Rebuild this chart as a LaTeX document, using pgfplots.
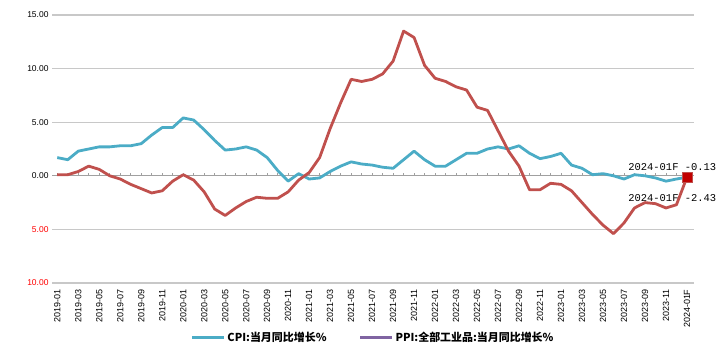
\documentclass[border=0pt]{standalone}
\usepackage{pgfplots}
\pgfplotsset{compat=1.18}
\usepackage{pgfplotstable}
\usepackage{fontspec}
\setmainfont{Liberation Sans}
\newfontfamily\cjk{Noto Sans CJK SC}
\newfontfamily\monof{Liberation Mono}
\definecolor{cpic}{HTML}{4BACC6}
\definecolor{ppic}{HTML}{C0504D}
\definecolor{ppileg}{HTML}{8064A2}
\definecolor{mk}{HTML}{C00000}
\definecolor{gridc}{HTML}{C8C8C8}
\definecolor{zeroc}{HTML}{A0A0A0}

\pgfplotstableread{
idx cpi ppi
0 1.7 0.1
1 1.5 0.1
2 2.3 0.4
3 2.5 0.9
4 2.7 0.6
5 2.7 0.0
6 2.8 -0.3
7 2.8 -0.8
8 3.0 -1.2
9 3.8 -1.6
10 4.5 -1.4
11 4.5 -0.5
12 5.4 0.1
13 5.2 -0.4
14 4.3 -1.5
15 3.3 -3.1
16 2.4 -3.7
17 2.5 -3.0
18 2.7 -2.4
19 2.4 -2.0
20 1.7 -2.1
21 0.5 -2.1
22 -0.5 -1.5
23 0.2 -0.4
24 -0.3 0.3
25 -0.2 1.7
26 0.4 4.4
27 0.9 6.8
28 1.3 9.0
29 1.1 8.8
30 1.0 9.0
31 0.8 9.5
32 0.7 10.7
33 1.5 13.5
34 2.3 12.9
35 1.5 10.3
36 0.9 9.1
37 0.9 8.8
38 1.5 8.3
39 2.1 8.0
40 2.1 6.4
41 2.5 6.1
42 2.7 4.2
43 2.5 2.3
44 2.8 0.9
45 2.1 -1.3
46 1.6 -1.3
47 1.8 -0.7
48 2.1 -0.8
49 1.0 -1.4
50 0.7 -2.5
51 0.1 -3.6
52 0.2 -4.6
53 0.0 -5.4
54 -0.3 -4.4
55 0.1 -3.0
56 0.0 -2.5
57 -0.2 -2.6
58 -0.5 -3.0
59 -0.3 -2.7
60 -0.13 -0.13
}\datatable

\begin{document}
\begin{tikzpicture}
\useasboundingbox (0,0) rectangle (722bp,352bp);
% zero line with month ticks
\begin{axis}[
  at={(52bp,69bp)}, anchor=south west,
  scale only axis, width=642bp, height=268bp,
  xmin=-0.5, xmax=60.67, ymin=-10, ymax=15,
  axis x line=middle, axis y line=none,
  axis line style={-, zeroc, line width=1.2bp},
  xtick={0,...,60}, xticklabels={},
  major tick length=3bp,
  xtick style={zeroc, line width=0.8bp, yshift=1.5bp},
]
\end{axis}
\begin{axis}[
  at={(52bp,69bp)}, anchor=south west,
  scale only axis, width=642bp, height=268bp,
  xmin=-0.5, xmax=60.67, ymin=-10, ymax=15,
  clip=false,
  axis line style={draw=none},
  major tick length=0pt,
  ytick={-10,-5,5,10,15},
  yticklabels={\textcolor{red}{10.00},\textcolor{red}{5.00},5.00,10.00,15.00},
  extra y ticks={0}, extra y tick labels={0.00},
  extra y tick style={grid=none},
  ymajorgrids=true,
  major grid style={gridc, line width=1.1bp},
  yticklabel style={font=\fontsize{8.5}{9}\selectfont},
  xtick={0,2,...,60},
  xticklabels={2019-01,2019-03,2019-05,2019-07,2019-09,2019-11,
    2020-01,2020-03,2020-05,2020-07,2020-09,2020-11,
    2021-01,2021-03,2021-05,2021-07,2021-09,2021-11,
    2022-01,2022-03,2022-05,2022-07,2022-09,2022-11,
    2023-01,2023-03,2023-05,2023-07,2023-09,2023-11,2024-01F},
  xticklabel style={rotate=90, anchor=east, font=\fontsize{9}{10}\selectfont, xshift=-3bp},
  legend style={at={(0.50,-0.205)}, anchor=center, draw=none, fill=none,
    legend columns=2, font=\cjk\bfseries\fontsize{11}{13}\selectfont,
    /tikz/every even column/.append style={column sep=30bp}},
  legend image code/.code={\draw[#1] (0bp,0bp) -- (32bp,0bp);},
]
\addlegendimage{cpic, line width=3bp}
\addlegendentry{CPI:当月同比增长\%}
\addlegendimage{ppileg, line width=3bp}
\addlegendentry{PPI:全部工业品:当月同比增长\%}
\addplot[cpic, line width=2.8bp, line join=round, forget plot] table[x=idx, y=cpi] {\datatable};
\addplot[ppic, line width=2.8bp, line join=round, forget plot] table[x=idx, y=ppi] {\datatable};
\addplot[only marks, mark=square*, mark size=5bp, mark options={fill=mk, draw=ppic, line width=0.6bp}, forget plot] coordinates {(60,-0.13)};
\node[font=\monof\fontsize{10.5}{12}\selectfont] at (axis cs:58.6,0.84) {2024-01F -0.13};
\node[font=\monof\fontsize{10.5}{12}\selectfont] at (axis cs:58.6,-2.05) {2024-01F -2.43};
\end{axis}
\end{tikzpicture}
\end{document}
